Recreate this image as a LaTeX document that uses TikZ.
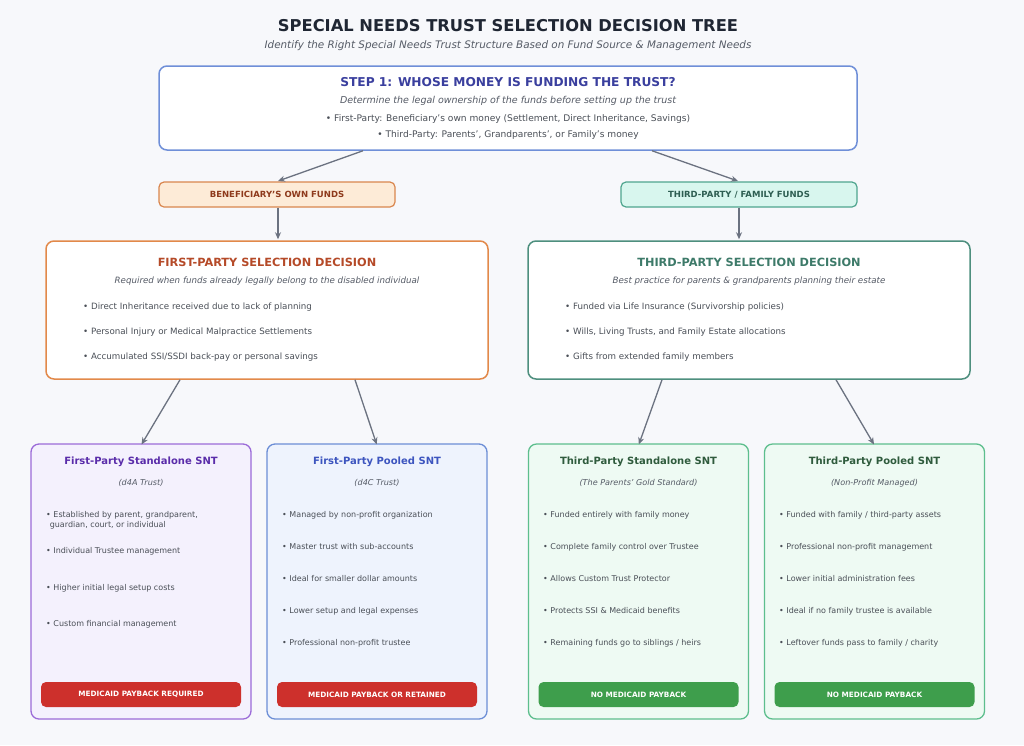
\documentclass[tikz,border=0pt]{standalone}
\usepackage{fontspec}
\setmainfont{DejaVu Sans}
\usetikzlibrary{arrows.meta,calc}
\definecolor{bgc}{HTML}{F7F8FB}
\definecolor{titlec}{HTML}{1F2633}
\definecolor{subc}{HTML}{555B66}
\definecolor{bulc}{HTML}{4A4F57}
\definecolor{stepb}{HTML}{6F8FD8}
\definecolor{stept}{HTML}{3A3F9E}
\definecolor{arrc}{HTML}{6B7280}
\definecolor{ownf}{HTML}{FDEBD7}
\definecolor{ownb}{HTML}{D9864E}
\definecolor{ownt}{HTML}{8E3A1C}
\definecolor{thf}{HTML}{D8F6EE}
\definecolor{thb}{HTML}{4FA58E}
\definecolor{tht}{HTML}{2E5E52}
\definecolor{fpb}{HTML}{E2894A}
\definecolor{fpt}{HTML}{B54A28}
\definecolor{tpb}{HTML}{4E8F7E}
\definecolor{tpt}{HTML}{3D7A69}
\definecolor{b1b}{HTML}{9B6BD8}
\definecolor{b1f}{HTML}{F4F1FD}
\definecolor{b1t}{HTML}{5A2DAA}
\definecolor{b2b}{HTML}{6C8ED6}
\definecolor{b2f}{HTML}{EEF3FD}
\definecolor{b2t}{HTML}{3D55BF}
\definecolor{b3b}{HTML}{5DBE8D}
\definecolor{b3f}{HTML}{EEFAF3}
\definecolor{b3t}{HTML}{2F5B3D}
\definecolor{redc}{HTML}{CD302C}
\definecolor{grnc}{HTML}{3E9E4C}
\begin{document}
\begin{tikzpicture}[x=1pt,y=-1pt,
  bigbox/.style={draw, rounded corners=8pt, line width=1.5pt, fill=white, inner sep=0pt},
  tagbox/.style={draw, rounded corners=5pt, line width=1.2pt, inner sep=0pt, minimum width=236pt, minimum height=25pt, font=\bfseries\fontsize{8.5}{9}\selectfont},
  card/.style={draw, rounded corners=8pt, line width=1.3pt, inner sep=0pt, minimum width=220pt, minimum height=275pt},
  badge/.style={rounded corners=5pt, inner sep=0pt, minimum width=200pt, minimum height=25pt, text=white, font=\bfseries\fontsize{7.3}{8}\selectfont},
  arr/.style={-{Stealth[length=7pt,width=6pt]}, line width=1.3pt, draw=arrc, shorten >=1pt},
  bul/.style={anchor=west, text=bulc, inner sep=0pt},
  midbul/.style={bul, font=\fontsize{8.7}{10}\selectfont},
  cardbul/.style={bul, font=\fontsize{8}{9}\selectfont},
  cardtitle/.style={font=\bfseries\fontsize{10}{12}\selectfont, inner sep=0pt},
  cardsub/.style={font=\itshape\fontsize{8.1}{9}\selectfont, text=subc, inner sep=0pt}
]
\useasboundingbox[fill=bgc] (0,0) rectangle (1024,745);

% title
\node[font=\bfseries\fontsize{16.3}{19}\selectfont, text=titlec] (title) at (508,26) {SPECIAL NEEDS TRUST SELECTION DECISION TREE};
\node[font=\itshape\fontsize{10.4}{12}\selectfont, text=subc] (subtitle) at (508,46) {Identify the Right Special Needs Trust Structure Based on Fund Source \& Management Needs};

% step 1
\node[bigbox, draw=stepb, minimum width=698pt, minimum height=84pt] (step) at (508,108) {};
\node[font=\bfseries\fontsize{12.2}{14}\selectfont, text=stept] (steptitle) at (508,82) {STEP 1: WHOSE MONEY IS FUNDING THE TRUST?};
\node[font=\itshape\fontsize{9.5}{11}\selectfont, text=subc] (stepsub) at (508,101) {Determine the legal ownership of the funds before setting up the trust};
\node[font=\fontsize{9.1}{11}\selectfont, text=bulc] (stepl1) at (508,119) {• First-Party: Beneficiary's own money (Settlement, Direct Inheritance, Savings)};
\node[font=\fontsize{9.1}{11}\selectfont, text=bulc] (stepl2) at (508,135) {• Third-Party: Parents', Grandparents', or Family's money};

% fund tags
\node[tagbox, draw=ownb, fill=ownf, text=ownt] (own) at (277,194.5) {BENEFICIARY'S OWN FUNDS};
\node[tagbox, draw=thb, fill=thf, text=tht] (third) at (739,194.5) {THIRD-PARTY / FAMILY FUNDS};

\draw[arr] ([xshift=-145pt]step.south) -- (own.north);
\draw[arr] ([xshift=144pt]step.south) -- (third.north);

% decisions
\node[bigbox, draw=fpb, minimum width=442pt, minimum height=138pt] (fpd) at (267,310) {};
\node[bigbox, draw=tpb, minimum width=442pt, minimum height=138pt] (tpd) at (749,310) {};

\draw[arr] ([xshift=1pt]own.south) -- ([xshift=1pt]own.south |- fpd.north);
\draw[arr] (third.south) -- (third.south |- tpd.north);

\node[font=\bfseries\fontsize{11.3}{13}\selectfont, text=fpt] (fptitle) at (267,262) {FIRST-PARTY SELECTION DECISION};
\node[font=\itshape\fontsize{8.7}{10}\selectfont, text=subc] (fpsub) at (267,281) {Required when funds already legally belong to the disabled individual};
\node[midbul] (fpb1) at (83,307) {• Direct Inheritance received due to lack of planning};
\node[midbul] (fpb2) at (83,332) {• Personal Injury or Medical Malpractice Settlements};
\node[midbul] (fpb3) at (83,357) {• Accumulated SSI/SSDI back-pay or personal savings};

\node[font=\bfseries\fontsize{11.3}{13}\selectfont, text=tpt] (tptitle) at (749,262) {THIRD-PARTY SELECTION DECISION};
\node[font=\itshape\fontsize{8.7}{10}\selectfont, text=subc] (tpsub) at (749,281) {Best practice for parents \& grandparents planning their estate};
\node[midbul] (tpb1) at (565,307) {• Funded via Life Insurance (Survivorship policies)};
\node[midbul] (tpb2) at (565,332) {• Wills, Living Trusts, and Family Estate allocations};
\node[midbul] (tpb3) at (565,357) {• Gifts from extended family members};

% cards
\node[card, draw=b1b, fill=b1f] (c1) at (141,581.5) {};
\node[card, draw=b2b, fill=b2f] (c2) at (377,581.5) {};
\node[card, draw=b3b, fill=b3f] (c3) at (638.5,581.5) {};
\node[card, draw=b3b, fill=b3f] (c4) at (874.5,581.5) {};

\draw[arr] ([xshift=-87pt]fpd.south) -- ([yshift=-2pt]c1.north);
\draw[arr] ([xshift=88pt]fpd.south) -- ([yshift=-2pt]c2.north);
\draw[arr] ([xshift=-87pt]tpd.south) -- ([yshift=-2pt]c3.north);
\draw[arr] ([xshift=87pt]tpd.south) -- ([yshift=-2pt]c4.north);

% card 1
\node[cardtitle, text=b1t] (c1t) at (141,462) {First-Party Standalone SNT};
\node[cardsub] (c1s) at (141,483) {(d4A Trust)};
\node[cardbul, align=left, font=\fontsize{8}{10.5}\selectfont] (c1b1) at (46,520.5) {• Established by parent, grandparent,\\\hspace*{0.45em}guardian, court, or individual};
\node[cardbul] (c1b2) at (46,551) {• Individual Trustee management};
\node[cardbul] (c1b3) at (46,588) {• Higher initial legal setup costs};
\node[cardbul] (c1b4) at (46,624) {• Custom financial management};
\node[badge, fill=redc] (c1g) at (141,694.5) {MEDICAID PAYBACK REQUIRED};

% card 2
\node[cardtitle, text=b2t] (c2t) at (377,462) {First-Party Pooled SNT};
\node[cardsub] (c2s) at (377,483) {(d4C Trust)};
\node[cardbul] (c2b1) at (282,515) {• Managed by non-profit organization};
\node[cardbul] (c2b2) at (282,547) {• Master trust with sub-accounts};
\node[cardbul] (c2b3) at (282,579) {• Ideal for smaller dollar amounts};
\node[cardbul] (c2b4) at (282,611) {• Lower setup and legal expenses};
\node[cardbul] (c2b5) at (282,643) {• Professional non-profit trustee};
\node[badge, fill=redc] (c2g) at (377,694.5) {MEDICAID PAYBACK OR RETAINED};

% card 3
\node[cardtitle, text=b3t] (c3t) at (638.5,462) {Third-Party Standalone SNT};
\node[cardsub] (c3s) at (638.5,483) {(The Parents' Gold Standard)};
\node[cardbul] (c3b1) at (543,515) {• Funded entirely with family money};
\node[cardbul] (c3b2) at (543,547) {• Complete family control over Trustee};
\node[cardbul] (c3b3) at (543,579) {• Allows Custom Trust Protector};
\node[cardbul] (c3b4) at (543,611) {• Protects SSI \& Medicaid benefits};
\node[cardbul] (c3b5) at (543,643) {• Remaining funds go to siblings / heirs};
\node[badge, fill=grnc] (c3g) at (638.5,694.5) {NO MEDICAID PAYBACK};

% card 4
\node[cardtitle, text=b3t] (c4t) at (874.5,462) {Third-Party Pooled SNT};
\node[cardsub] (c4s) at (874.5,483) {(Non-Profit Managed)};
\node[cardbul] (c4b1) at (779,515) {• Funded with family / third-party assets};
\node[cardbul] (c4b2) at (779,547) {• Professional non-profit management};
\node[cardbul] (c4b3) at (779,579) {• Lower initial administration fees};
\node[cardbul] (c4b4) at (779,611) {• Ideal if no family trustee is available};
\node[cardbul] (c4b5) at (779,643) {• Leftover funds pass to family / charity};
\node[badge, fill=grnc] (c4g) at (874.5,694.5) {NO MEDICAID PAYBACK};
\end{tikzpicture}
\end{document}
